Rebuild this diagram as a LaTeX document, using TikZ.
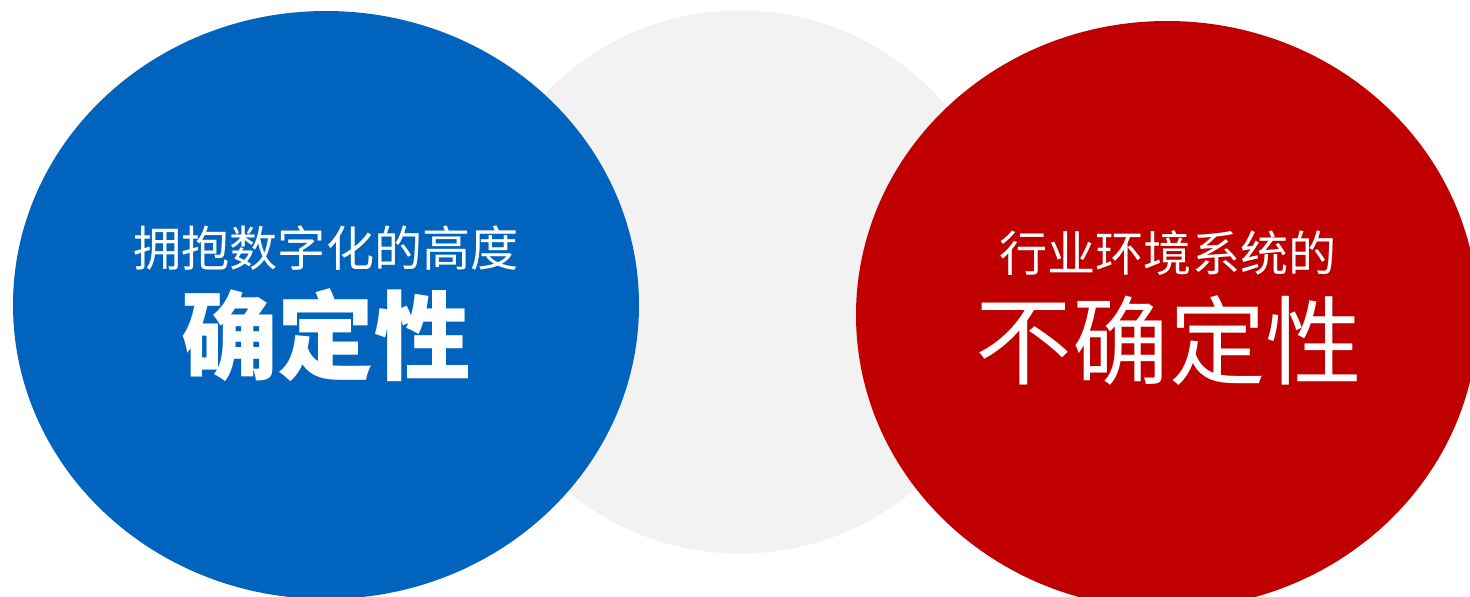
\documentclass[tikz,border=0pt]{standalone}
\usepackage{fontspec}
\newfontfamily\cjk{Noto Sans CJK SC}
\usetikzlibrary{shapes.geometric}
\definecolor{deepblue}{HTML}{0064BE}
\definecolor{deepred}{HTML}{C00000}
\definecolor{palegray}{HTML}{F2F2F2}

\begin{document}
\begin{tikzpicture}[x=0.1mm,y=-0.1mm,
		blob/.style={ellipse,inner sep=0pt,draw=none},
		small/.style={text=white,inner sep=0pt,font=\cjk\fontsize{13.7}{16}\selectfont},
		big/.style={text=white,inner sep=0pt,font=\cjk\fontsize{27.5}{32}\selectfont}
		]
		\useasboundingbox (0,0) rectangle (1470,597);
		
		\node[blob,fill=palegray,minimum width=54.2mm,minimum height=54.3mm] (middle) at (740,282) {};
		\node[blob,fill=deepblue,minimum width=62.6mm,minimum height=58.8mm] (certain) at (326,305) {};
		\node[blob,fill=deepred,minimum width=62.2mm,minimum height=58.8mm] (uncertain) at (1167,315) {};
		
		\node[small] (certtop) at (326,248) {拥抱数字化的高度};
		\node[big,font=\cjk\bfseries\fontsize{27.5}{32}\selectfont] (certword) at (326,335) {确定性};
		\node[small] (unctop) at (1168,253) {行业环境系统的};
		\node[big] (uncword) at (1169,341) {不确定性};
	\end{tikzpicture}
\end{document}
